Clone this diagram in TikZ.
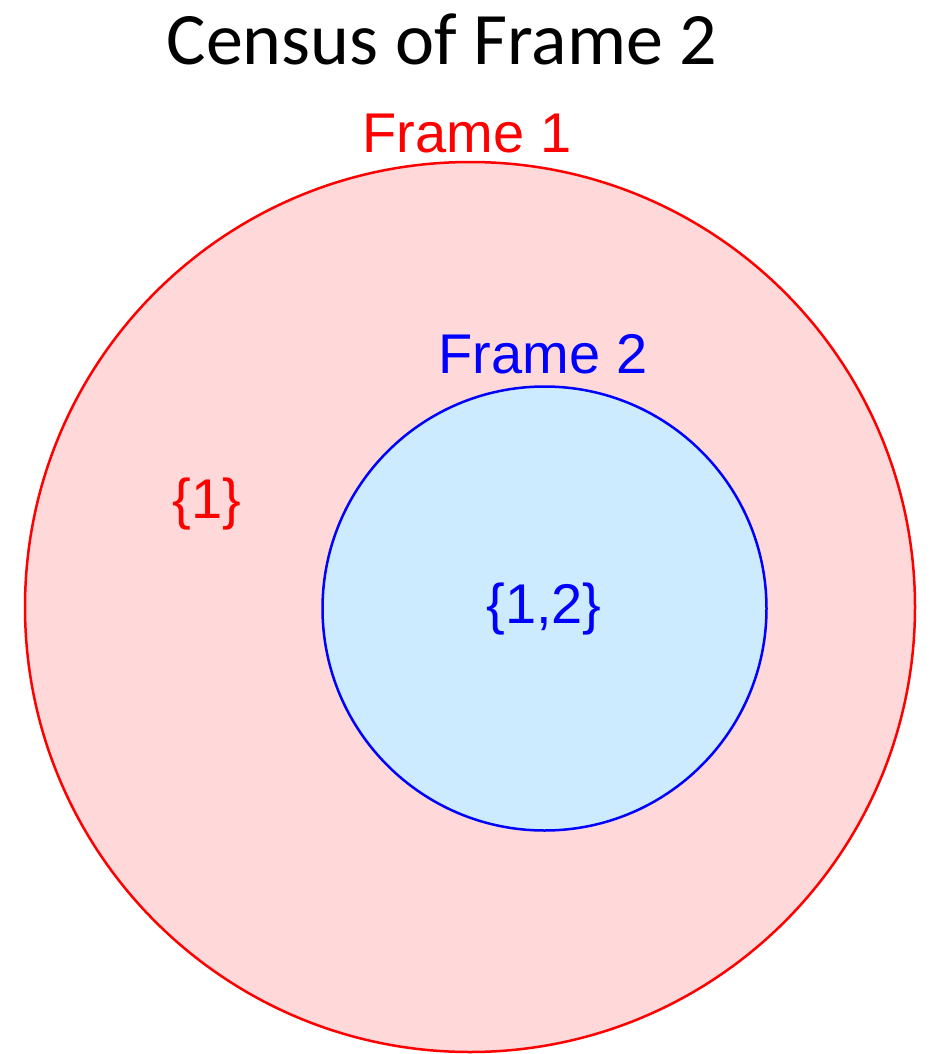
\documentclass[tikz,border=0pt]{standalone}
\usepackage{fontspec}
\setmainfont{Carlito}
\newfontfamily\arialfont{Liberation Sans}
\usepackage{xcolor}
\definecolor{frameonered}{HTML}{FF0000}
\definecolor{frameonefill}{HTML}{FFD9D9}
\definecolor{frametwoblue}{HTML}{0000FF}
\definecolor{frametwofill}{HTML}{CCEBFF}
\tikzset{
  frameset/.style={circle, line width=2.5pt, inner sep=0pt},
  framelabel/.style={anchor=base, inner sep=0pt,
    font=\arialfont\fontsize{56}{60}\selectfont}
}

\begin{document}
\begin{tikzpicture}[x=1pt, y=-1pt]
\useasboundingbox (0,0) rectangle (930,1054);
\node[anchor=base, inner sep=0pt, font=\fontsize{74}{80}\selectfont] (title) at (442,65) {Census of Frame 2};
% the two frames
\node[frameset, draw=frameonered, fill=frameonefill, minimum size=890pt] (frameone) at (470,607) {};
\node[frameset, draw=frametwoblue, fill=frametwofill, minimum size=444pt] (frametwo) at (544.5,608.5) {};
% labels
\node[framelabel, text=frameonered] (frameonename) at (467,153) {Frame 1};
\node[framelabel, text=frametwoblue] (frametwoname) at (543,373) {Frame 2};
\node[framelabel, text=frameonered] (onlyone) at (207,518) {\{1\}};
\node[framelabel, text=frametwoblue] (bothframes) at (544,623) {\{1,2\}};
\end{tikzpicture}
\end{document}
